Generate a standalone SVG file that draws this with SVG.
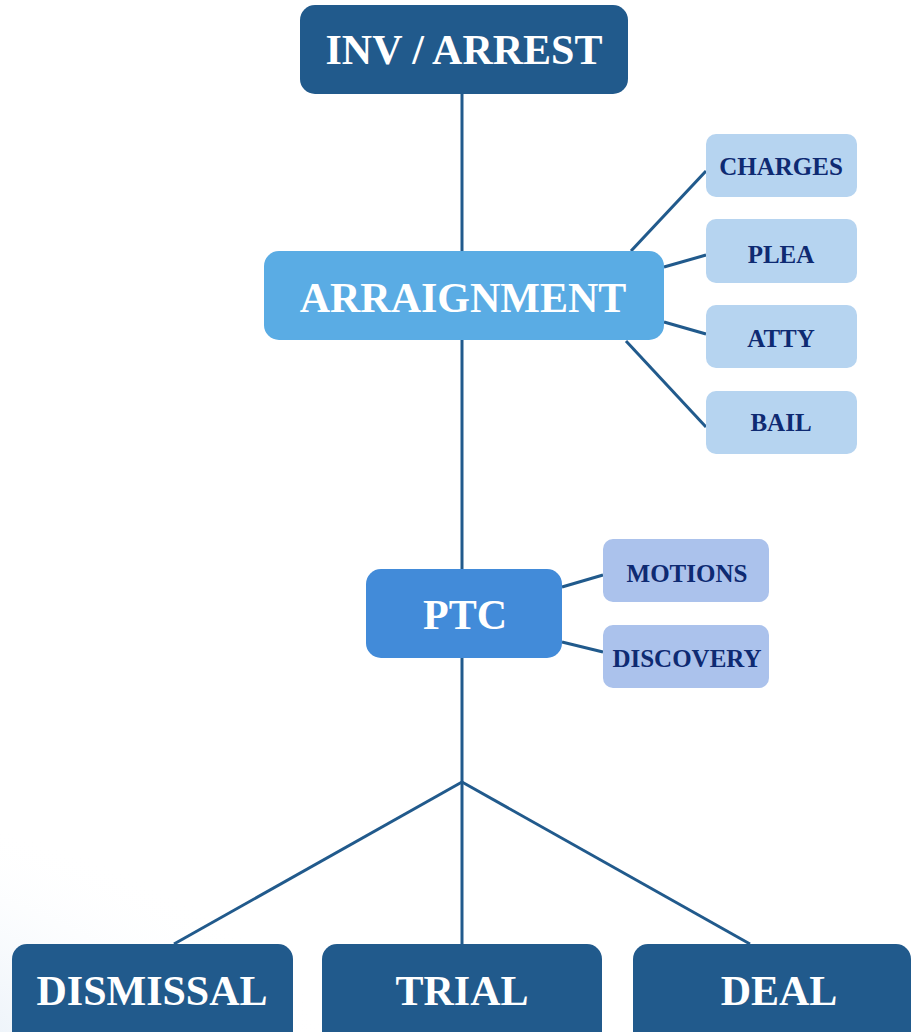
<svg xmlns="http://www.w3.org/2000/svg" width="912" height="1032" viewBox="0 0 912 1032">
  <defs>
    <radialGradient id="bg" cx="0.1" cy="0.75" r="0.6">
      <stop offset="0" stop-color="#e2ecf6"/>
      <stop offset="0.55" stop-color="#eef4fa"/>
      <stop offset="1" stop-color="#ffffff" stop-opacity="0"/>
    </radialGradient>
    <style>
      .dark { fill: #215a8c; }
      .big { font-family: "Liberation Serif", "Times New Roman", serif; font-weight: bold; font-size: 42px; fill: #ffffff; text-anchor: middle; }
      .small { font-family: "Liberation Serif", "Times New Roman", serif; font-weight: bold; font-size: 25px; fill: #0e2a72; text-anchor: middle; }
      .sub1 { fill: #b6d4f0; }
      .sub2 { fill: #abc2ec; }
      .conn line { stroke: #215a8c; stroke-width: 3; fill: none; }
    </style>
  </defs>
  <rect width="912" height="1032" fill="#ffffff"/>
  <ellipse cx="100" cy="960" rx="620" ry="260" fill="url(#bg)"/>
  <g class="conn">
    <line x1="462" y1="94" x2="462" y2="251"/>
    <line x1="462" y1="340" x2="462" y2="569"/>
    <line x1="462" y1="658" x2="462" y2="782"/>
    <line x1="462" y1="782" x2="174" y2="944"/>
    <line x1="462" y1="782" x2="462" y2="944"/>
    <line x1="462" y1="782" x2="750" y2="944"/>
    <line x1="631" y1="251" x2="706" y2="171"/>
    <line x1="664" y1="267" x2="706" y2="255"/>
    <line x1="664" y1="322" x2="706" y2="334"/>
    <line x1="626" y1="341" x2="706" y2="427"/>
    <line x1="562" y1="587" x2="603" y2="575"/>
    <line x1="562" y1="642" x2="603" y2="652"/>
  </g>
  <g id="inv">
    <rect class="dark" x="300" y="5" width="328" height="89" rx="15"/>
    <text class="big" x="464" y="64">INV / ARREST</text>
  </g>
  <g id="arraignment">
    <rect x="264" y="251" width="400" height="89" rx="15" fill="#5aace4"/>
    <text class="big" x="463" y="312">ARRAIGNMENT</text>
  </g>
  <g id="charges">
    <rect class="sub1" x="706" y="134" width="151" height="63" rx="10"/>
    <text class="small" x="781" y="175">CHARGES</text>
  </g>
  <g id="plea">
    <rect class="sub1" x="706" y="219" width="151" height="64" rx="10"/>
    <text class="small" x="781" y="263">PLEA</text>
  </g>
  <g id="atty">
    <rect class="sub1" x="706" y="305" width="151" height="63" rx="10"/>
    <text class="small" x="781" y="347">ATTY</text>
  </g>
  <g id="bail">
    <rect class="sub1" x="706" y="391" width="151" height="63" rx="10"/>
    <text class="small" x="781" y="431">BAIL</text>
  </g>
  <g id="ptc">
    <rect x="366" y="569" width="196" height="89" rx="15" fill="#428bd9"/>
    <text class="big" x="465" y="629">PTC</text>
  </g>
  <g id="motions">
    <rect class="sub2" x="603" y="539" width="166" height="63" rx="10"/>
    <text class="small" x="687" y="582">MOTIONS</text>
  </g>
  <g id="discovery">
    <rect class="sub2" x="603" y="625" width="166" height="63" rx="10"/>
    <text class="small" x="687" y="667">DISCOVERY</text>
  </g>
  <g id="dismissal">
    <rect class="dark" x="12" y="944" width="281" height="110" rx="15"/>
    <text class="big" x="152" y="1005">DISMISSAL</text>
  </g>
  <g id="trial">
    <rect class="dark" x="322" y="944" width="280" height="110" rx="15"/>
    <text class="big" x="462" y="1005">TRIAL</text>
  </g>
  <g id="deal">
    <rect class="dark" x="633" y="944" width="278" height="110" rx="15"/>
    <text class="big" x="779" y="1005">DEAL</text>
  </g>
</svg>
